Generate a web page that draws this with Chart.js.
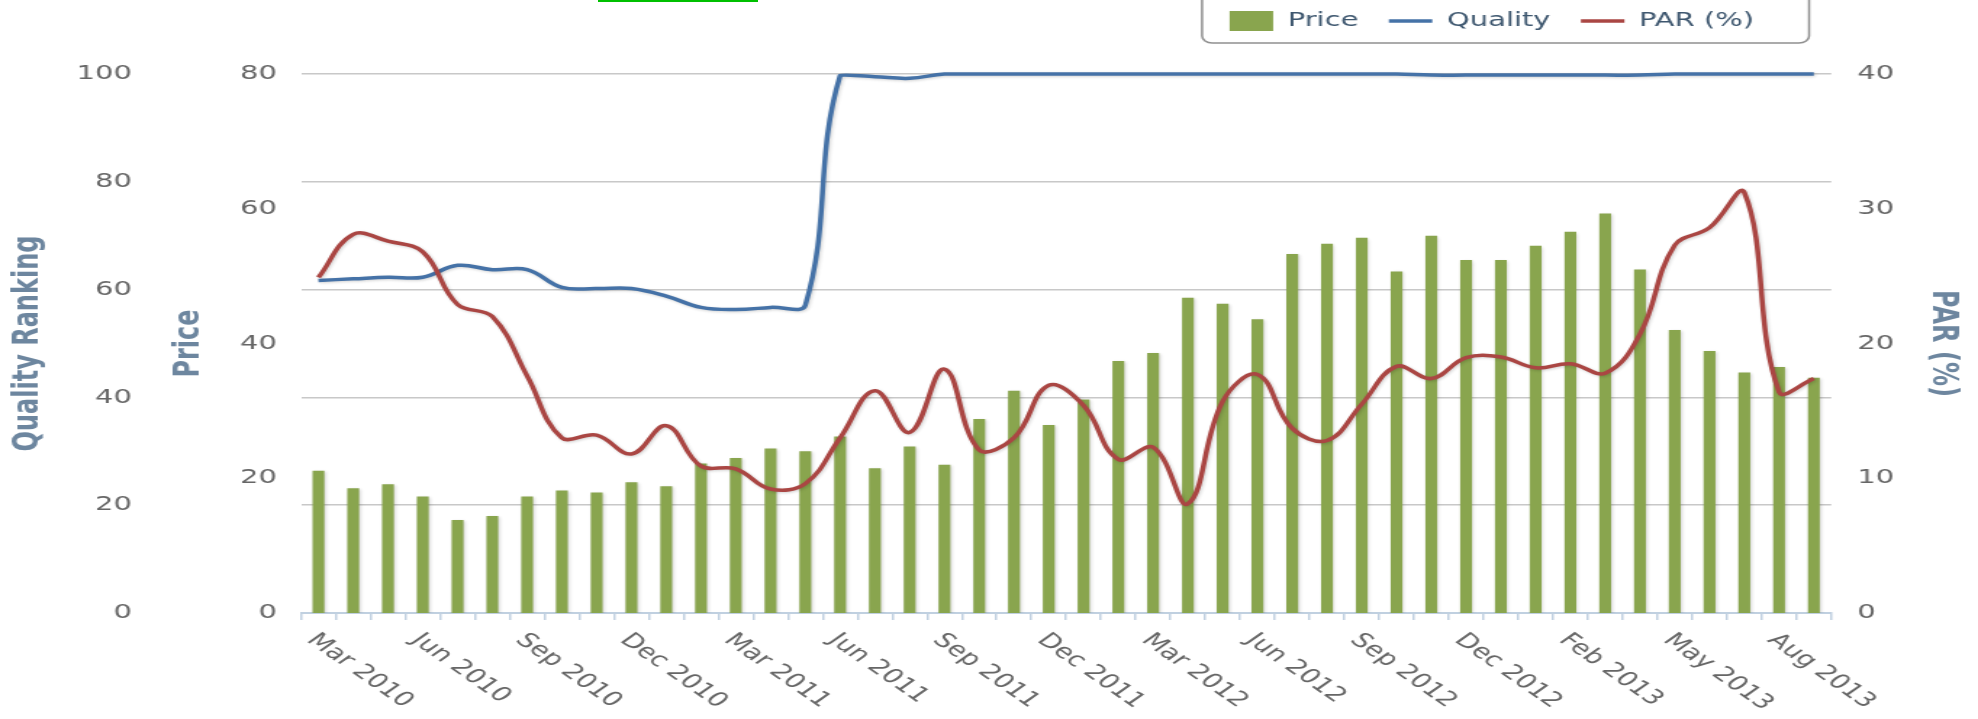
<!DOCTYPE html>
<html>
<head>
<meta charset="utf-8">
<title>Price / Quality / PAR</title>
<script src="https://cdn.jsdelivr.net/npm/chart.js@4.4.1/dist/chart.umd.min.js"></script>
<style>
  html, body { margin: 0; padding: 0; background: #fff; overflow: hidden; }
  #wrap { position: relative; width: 1978px; height: 719px; }
  .tab-mark { position: absolute; left: 598px; top: 0; width: 160px; height: 2px; background: #00c000; }
</style>
</head>
<body>
<div id="wrap">
  <!-- drawn at 1364px wide and stretched to 1978px, like the source image -->
  <canvas id="mainChart" width="1364" height="719" style="width:1978px;height:719px;display:block"></canvas>
  <div class="tab-mark"></div>
</div>
<script>
// categories (one bar per month, a label every third one)
const months = [
  'Mar 2010', 'Apr 2010', 'May 2010', 'Jun 2010', 'Jul 2010', 'Aug 2010', 'Sep 2010', 'Oct 2010', 'Nov 2010',
  'Dec 2010', 'Jan 2011', 'Feb 2011', 'Mar 2011', 'Apr 2011', 'May 2011', 'Jun 2011', 'Jul 2011', 'Aug 2011',
  'Sep 2011', 'Oct 2011', 'Nov 2011', 'Dec 2011', 'Jan 2012', 'Feb 2012', 'Mar 2012', 'Apr 2012', 'May 2012',
  'Jun 2012', 'Jul 2012', 'Aug 2012', 'Sep 2012', 'Oct 2012', 'Nov 2012', 'Dec 2012', 'Jan 2013', 'Jan 2013',
  'Feb 2013', 'Mar 2013', 'Apr 2013', 'May 2013', 'Jun 2013', 'Jul 2013', 'Aug 2013', 'Sep 2013'
];

const priceValues = [
  21.1, 18.5, 19.1, 17.3, 13.8, 14.4, 17.3, 18.2, 17.9, 19.4, 18.8, 22.2, 23.0, 24.4, 24.0,
  26.2, 21.5, 24.7, 22.0, 28.8, 33.0, 27.9, 31.7, 37.4, 38.6, 46.8, 45.9, 43.6, 53.3, 54.8,
  55.7, 50.7, 56.0, 52.4, 52.4, 54.5, 56.6, 59.3, 51.0, 42.0, 38.9, 35.7, 36.5, 34.9
];

const qualityValues = [
  61.7, 62.0, 62.3, 62.3, 64.5, 63.7, 63.7, 60.4, 60.2, 60.2, 58.8, 56.7, 56.3, 56.7, 57.1,
  99.7, 99.5, 99.2, 100, 100, 100, 100, 100, 100, 100, 100, 100, 100, 100, 100,
  100, 100, 99.8, 99.8, 99.8, 99.8, 99.8, 99.8, 99.8, 100, 100, 100, 100, 100
];

const parValues = [
  24.9, 28.1, 27.6, 26.8, 22.9, 22.0, 17.6, 13.0, 13.2, 11.8, 13.9, 10.9, 10.7, 9.2, 9.6,
  13.0, 16.5, 13.4, 18.1, 12.1, 13.0, 16.9, 15.4, 11.4, 12.3, 8.1, 15.7, 17.7, 13.7, 12.8,
  15.5, 18.3, 17.4, 18.95, 19.0, 18.2, 18.5, 17.8, 20.7, 27.3, 28.6, 31.2, 16.4, 17.4
];

// tick labels of the three value axes
const qualityTicks = [0, 20, 40, 60, 80, 100];
const priceTicks = [0, 20, 40, 60, 80];
const parTicks = [0, 10, 20, 30, 40];

Chart.defaults.font.family = '"DejaVu Sans", Verdana, sans-serif';
Chart.defaults.color = '#666';

const tickFont = { size: 20 };
const titleFont = { size: 24, weight: 'bold' };
const titleColor = '#6D869F';

// soft drop shadow under bars and lines
const shadowPlugin = {
    id: 'shadowPlugin',
    beforeDatasetDraw(chart) {
        const ctx = chart.ctx;
        ctx.save();
        ctx.shadowColor = 'rgba(0, 0, 0, 0.18)';
        ctx.shadowOffsetX = 1;
        ctx.shadowOffsetY = 1;
        ctx.shadowBlur = 3;
    },
    afterDatasetDraw(chart) {
        chart.ctx.restore();
    }
};

// legend sits top right inside a rounded frame
const legendFrame = {
    id: 'legendFrame',
    afterLayout(chart) {
        const lg = chart.legend;
        lg.top -= 33;
        lg.bottom -= 33;
        lg.right = 1230.5;
    },
    afterDraw(chart) {
        const lg = chart.legend;
        const ctx = chart.ctx;
        const pad = lg.options.labels.padding;
        const start = lg.right - lg.lineWidths[0];
        const end = lg.right - pad;
        ctx.save();
        ctx.strokeStyle = '#909090';
        ctx.lineWidth = 1.5;
        ctx.beginPath();
        ctx.roundRect(start - 19, -12, end + 38 - (start - 19), 55, 7);
        ctx.stroke();
        ctx.restore();
    }
};

// month labels hang down to the right of their tick
const monthLabels = {
    id: 'monthLabels',
    afterDraw(chart) {
        const xs = chart.scales.x;
        const ctx = chart.ctx;
        ctx.save();
        ctx.font = '20px "DejaVu Sans", Verdana, sans-serif';
        ctx.fillStyle = '#666';
        ctx.textAlign = 'left';
        ctx.textBaseline = 'top';
        months.forEach((m, i) => {
            if (i % 3 !== 0) return;
            ctx.save();
            ctx.translate(xs.getPixelForValue(i) + 2, xs.top + 17);
            ctx.rotate(Math.PI / 4);
            ctx.fillText(m, 0, 0);
            ctx.restore();
        });
        ctx.restore();
    }
};

const ctx = document.getElementById('mainChart').getContext('2d');
new Chart(ctx, {
    type: 'bar',
    data: {
        labels: months,
        datasets: [
            {
                label: 'Price',
                data: priceValues,
                yAxisID: 'price',
                backgroundColor: '#89A54E',
                borderWidth: 0,
                barPercentage: 0.34,
                categoryPercentage: 1,
                pointStyle: 'rect',
                order: 3
            },
            {
                type: 'line',
                label: 'Quality',
                data: qualityValues,
                yAxisID: 'quality',
                borderColor: '#4572A7',
                backgroundColor: '#4572A7',
                borderWidth: 3.5,
                pointRadius: 0,
                pointStyle: 'line',
                tension: 0.4,
                clip: false,
                order: 2
            },
            {
                type: 'line',
                label: 'PAR (%)',
                data: parValues,
                yAxisID: 'par',
                borderColor: '#AA4643',
                backgroundColor: '#AA4643',
                borderWidth: 3.5,
                pointRadius: 0,
                pointStyle: 'line',
                tension: 0.4,
                clip: false,
                order: 1
            }
        ]
    },
    options: {
        responsive: false,
        animation: false,
        layout: { padding: { top: 23, left: 0, right: 0, bottom: 0 } },
        plugins: {
            legend: {
                position: 'top',
                align: 'end',
                labels: {
                    usePointStyle: true,
                    pointStyleWidth: 30,
                    padding: 21,
                    color: '#3E576F',
                    font: { size: 20 },
                    sort: (a, b) => a.datasetIndex - b.datasetIndex
                }
            },
            tooltip: { enabled: false }
        },
        scales: {
            x: {
                offset: true,
                grid: {
                    display: true,
                    offset: true,
                    drawOnChartArea: false,
                    drawTicks: true,
                    tickLength: 7,
                    color: '#C0D0E0',
                    lineWidth: 1.5
                },
                border: { color: '#C0D0E0', width: 2 },
                ticks: { display: false },
                afterFit(scale) { scale.height = 106; }
            },
            quality: {
                position: 'left',
                weight: 2,
                min: qualityTicks[0],
                max: qualityTicks[qualityTicks.length - 1],
                ticks: { stepSize: qualityTicks[1] - qualityTicks[0], padding: 9, font: tickFont, color: '#666' },
                grid: { color: '#C8C8C8', lineWidth: 1.5, drawTicks: false },
                border: { display: false },
                title: { display: true, text: 'Quality Ranking', color: titleColor, font: titleFont, padding: { top: 4.9, bottom: 0 } },
                afterFit(scale) { scale.width = 100; }
            },
            price: {
                position: 'left',
                weight: 1,
                min: priceTicks[0],
                max: priceTicks[priceTicks.length - 1],
                ticks: { stepSize: priceTicks[1] - priceTicks[0], padding: 16.6, font: tickFont, color: '#666' },
                grid: { display: false, drawTicks: false },
                border: { display: false },
                title: { display: true, text: 'Price', color: titleColor, font: titleFont, padding: { top: 16.6, bottom: 0 } },
                afterFit(scale) { scale.width = 107.6; }
            },
            par: {
                position: 'right',
                min: parTicks[0],
                max: parTicks[parTicks.length - 1],
                ticks: { stepSize: parTicks[1] - parTicks[0], padding: 18, font: tickFont, color: '#666' },
                grid: { display: false, drawTicks: false },
                border: { display: false },
                title: { display: true, text: 'PAR (%)', color: titleColor, font: titleFont, padding: { top: 10.3, bottom: 0 } },
                afterFit(scale) { scale.width = 101.2; }
            }
        }
    },
    plugins: [shadowPlugin, legendFrame, monthLabels]
});
</script>
</body>
</html>
